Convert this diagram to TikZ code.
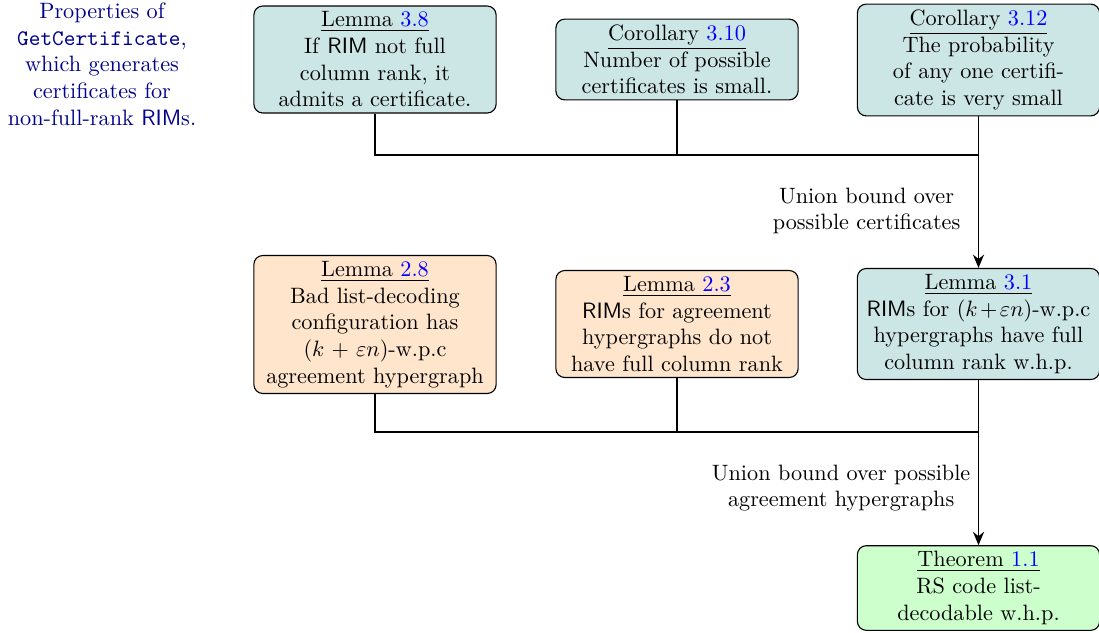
\documentclass[tikz,border=0pt]{standalone}
\usetikzlibrary{arrows.meta}
\begin{document}
\begin{tikzpicture}[x=0.45pt,y=-0.45pt,
  box/.style={draw=black,line width=0.5pt,rounded corners=4pt,text width=101pt,align=center,inner xsep=4pt,inner ysep=2.6pt},
  tealbox/.style={box,fill=teal!20},
  orbox/.style={box,fill=orange!20},
  grbox/.style={box,fill=green!20},
  conn/.style={line width=0.8pt},
  arr/.style={conn,-{Stealth[length=6pt,width=5pt]}},
  lbl/.style={align=center,inner sep=1pt}]
\useasboundingbox (0,0) rectangle (1099,632);
\node[align=center,text=blue!55!black,inner sep=0pt] (side) at (102,64)
  {Properties of\\ \texttt{GetCertificate},\\ which generates\\ certificates for\\ non-full-rank \textsf{RIM}s.};
\node[tealbox] (L38) at (375,59.5) {\underline{Lemma \textcolor{blue}{3.8}}\\ If \textsf{RIM} not full\\ column rank, it\\ admits a certificate.};
\node[tealbox] (C310) at (677,59.5) {\underline{Corollary \textcolor{blue}{3.10}}\\ Number of possible\\ certificates is small.};
\node[tealbox] (C312) at (978.5,60) {\underline{Corollary \textcolor{blue}{3.12}}\\ The probability\\ of any one certifi-\\ cate is very small};
\node[orbox] (L28) at (375,324.5) {\underline{Lemma \textcolor{blue}{2.8}}\\ Bad list-decoding\\ configuration has\\ $(k+\varepsilon n)$-w.p.c\\ agreement hypergraph};
\node[orbox] (L23) at (677,324) {\underline{Lemma \textcolor{blue}{2.3}}\\ \textsf{RIM}s for agreement\\ hypergraphs do not\\ have full column rank};
\node[tealbox] (L31) at (978.5,324) {\underline{Lemma \textcolor{blue}{3.1}}\\ \textsf{RIM}s for $(k\mskip2mu{+}\mskip2mu\varepsilon n)$-w.p.c\\ hypergraphs have full\\ column rank w.h.p.};
\node[grbox] (T11) at (978.5,588) {\underline{Theorem \textcolor{blue}{1.1}}\\ RS code list-\\ decodable w.h.p.};
\coordinate (j1) at (978.5,155);
\coordinate (j2) at (978.5,432);
\draw[conn] (L38.south) |- (j1);
\draw[conn] (C310.south) -- (C310.south |- j1);
\draw[arr] (C312.south) -- (L31.north);
\draw[conn] (L28.south) |- (j2);
\draw[conn] (L23.south) -- (L23.south |- j2);
\draw[arr] (L31.south) -- (T11.north);
\node[lbl,anchor=east] (u1) at (963,211) {Union bound over\\ possible certificates};
\node[lbl,anchor=east] (u2) at (973,488) {Union bound over possible\\ agreement hypergraphs};
\end{tikzpicture}
\end{document}
